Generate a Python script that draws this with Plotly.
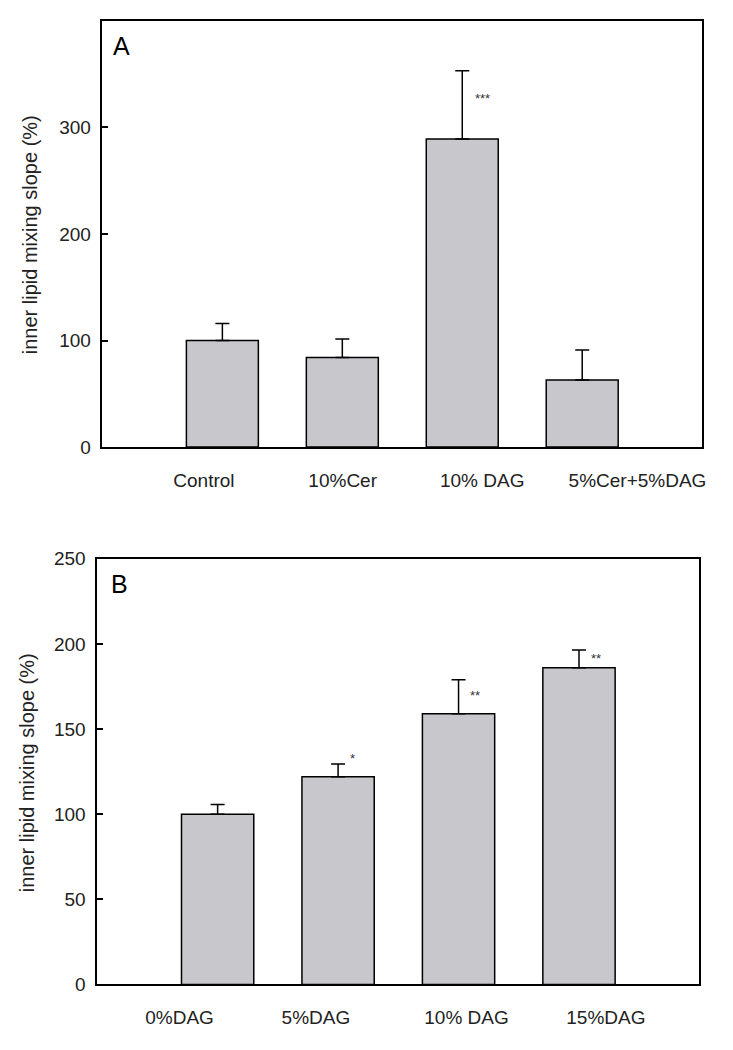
import plotly.graph_objects as go

# ---- data ----
cats_a = ["Control", "10%Cer", "10% DAG", "5%Cer+5%DAG"]
vals_a = [100, 84, 289, 63]
errs_a = [16, 17.5, 64, 28]
stars_a = ["", "", "***", ""]
star_y_a = [None, None, 327, None]

cats_b = ["0%DAG", "5%DAG", "10% DAG", "15%DAG"]
vals_b = [100, 122, 159, 186]
errs_b = [5.7, 7.5, 20, 10.5]
stars_b = ["", "*", "**", "**"]
star_y_b = [None, 132.5, 169.5, 191.5]

yticks_a = [0, 100, 200, 300]
yticks_b = [0, 50, 100, 150, 200, 250]

# label placement (in bar-axis units) as in the original figure
label_pos_a = [-0.154, 1.003, 2.166, 3.461]
label_pos_b = [-0.316, 0.816, 2.066, 3.223]

W, H = 733, 1050
FONT = "Liberation Sans, Arial, Helvetica, sans-serif"
BAR_COLOR = "#c8c7cb"
TXT = "#222222"


def px(x):
    return x / W


def py(y):
    return 1 - y / H


fig = go.Figure()

fig.add_trace(go.Bar(
    x=cats_a, y=vals_a, width=0.6,
    marker=dict(color=BAR_COLOR, line=dict(color="black", width=1.5)),
    error_y=dict(type="data", symmetric=False, array=errs_a,
                 arrayminus=[0] * len(errs_a), width=7, thickness=1.5, color="black"),
    xaxis="x", yaxis="y", showlegend=False, hoverinfo="skip",
))
fig.add_trace(go.Bar(
    x=cats_b, y=vals_b, width=0.6,
    marker=dict(color=BAR_COLOR, line=dict(color="black", width=1.5)),
    error_y=dict(type="data", symmetric=False, array=errs_b,
                 arrayminus=[0] * len(errs_b), width=7, thickness=1.5, color="black"),
    xaxis="x2", yaxis="y2", showlegend=False, hoverinfo="skip",
))
# invisible carriers so the label axes get drawn
fig.add_trace(go.Scatter(x=label_pos_a, y=[0] * len(cats_a), mode="markers",
                         marker=dict(opacity=0), xaxis="x3", yaxis="y",
                         showlegend=False, hoverinfo="skip"))
fig.add_trace(go.Scatter(x=label_pos_b, y=[0] * len(cats_b), mode="markers",
                         marker=dict(opacity=0), xaxis="x4", yaxis="y2",
                         showlegend=False, hoverinfo="skip"))

common_x = dict(type="category", range=[-1, 4], showline=True, linecolor="black",
                linewidth=1.5, mirror=True, ticks="", showgrid=False, zeroline=False,
                showticklabels=False)
label_x = dict(type="linear", range=[-1, 4], showline=False, ticks="", showgrid=False,
               zeroline=False, side="bottom",
               tickfont=dict(family=FONT, size=19, color=TXT), ticklabelstandoff=20)
common_y = dict(showline=True, linecolor="black", linewidth=1.5, mirror=True,
                ticks="inside", ticklen=6, tickwidth=1.5, tickcolor="black",
                showgrid=False, zeroline=False,
                tickfont=dict(family=FONT, size=19, color=TXT), ticklabelstandoff=6)

fig.update_layout(
    width=W, height=H,
    margin=dict(l=0, r=0, t=0, b=0),
    paper_bgcolor="white", plot_bgcolor="white",
    bargap=0.4,
    xaxis=dict(domain=[px(103), px(706)], anchor="y", **common_x),
    yaxis=dict(domain=[py(446), py(11)], anchor="x", range=[0, 400],
               tickvals=yticks_a, **common_y),
    xaxis2=dict(domain=[px(97.7), px(703.3)], anchor="y2", **common_x),
    yaxis2=dict(domain=[py(994.3), py(560)], anchor="x2", range=[0, 250],
                tickvals=yticks_b, **common_y),
    xaxis3=dict(overlaying="x", anchor="y", tickvals=label_pos_a,
                ticktext=cats_a, **label_x),
    xaxis4=dict(overlaying="x2", anchor="y2", tickvals=label_pos_b,
                ticktext=cats_b, **label_x),
)

annotations = []
for i, (s, yv) in enumerate(zip(stars_a, star_y_a)):
    if s:
        annotations.append(dict(x=i + 0.09, y=yv, xref="x", yref="y", text=s,
                                showarrow=False, xanchor="left", yanchor="middle",
                                font=dict(family=FONT, size=13, color="#333333")))
for i, (s, yv) in enumerate(zip(stars_b, star_y_b)):
    if s:
        annotations.append(dict(x=i + 0.08, y=yv, xref="x2", yref="y2", text=s,
                                showarrow=False, xanchor="left", yanchor="middle",
                                font=dict(family=FONT, size=13, color="#333333")))

# panel letters
annotations.append(dict(x=px(112), y=py(37), xref="paper", yref="paper", text="A",
                        showarrow=False, xanchor="left", yanchor="middle",
                        font=dict(family=FONT, size=25, color="black")))
annotations.append(dict(x=px(110), y=py(586), xref="paper", yref="paper", text="B",
                        showarrow=False, xanchor="left", yanchor="middle",
                        font=dict(family=FONT, size=25, color="black")))

# y-axis titles
ytitle = "inner lipid mixing slope (%)"
annotations.append(dict(x=px(31), y=py(229), xref="paper", yref="paper", text=ytitle,
                        textangle=-90, showarrow=False, xanchor="center", yanchor="middle",
                        font=dict(family=FONT, size=20, color=TXT)))
annotations.append(dict(x=px(28), y=py(778), xref="paper", yref="paper", text=ytitle,
                        textangle=-90, showarrow=False, xanchor="center", yanchor="middle",
                        font=dict(family=FONT, size=20, color=TXT)))

fig.update_layout(annotations=annotations)

fig.write_html(
    "out.html",
    config={"displayModeBar": False},
    post_script="document.body.style.margin='0';document.body.style.overflow='hidden';",
)
